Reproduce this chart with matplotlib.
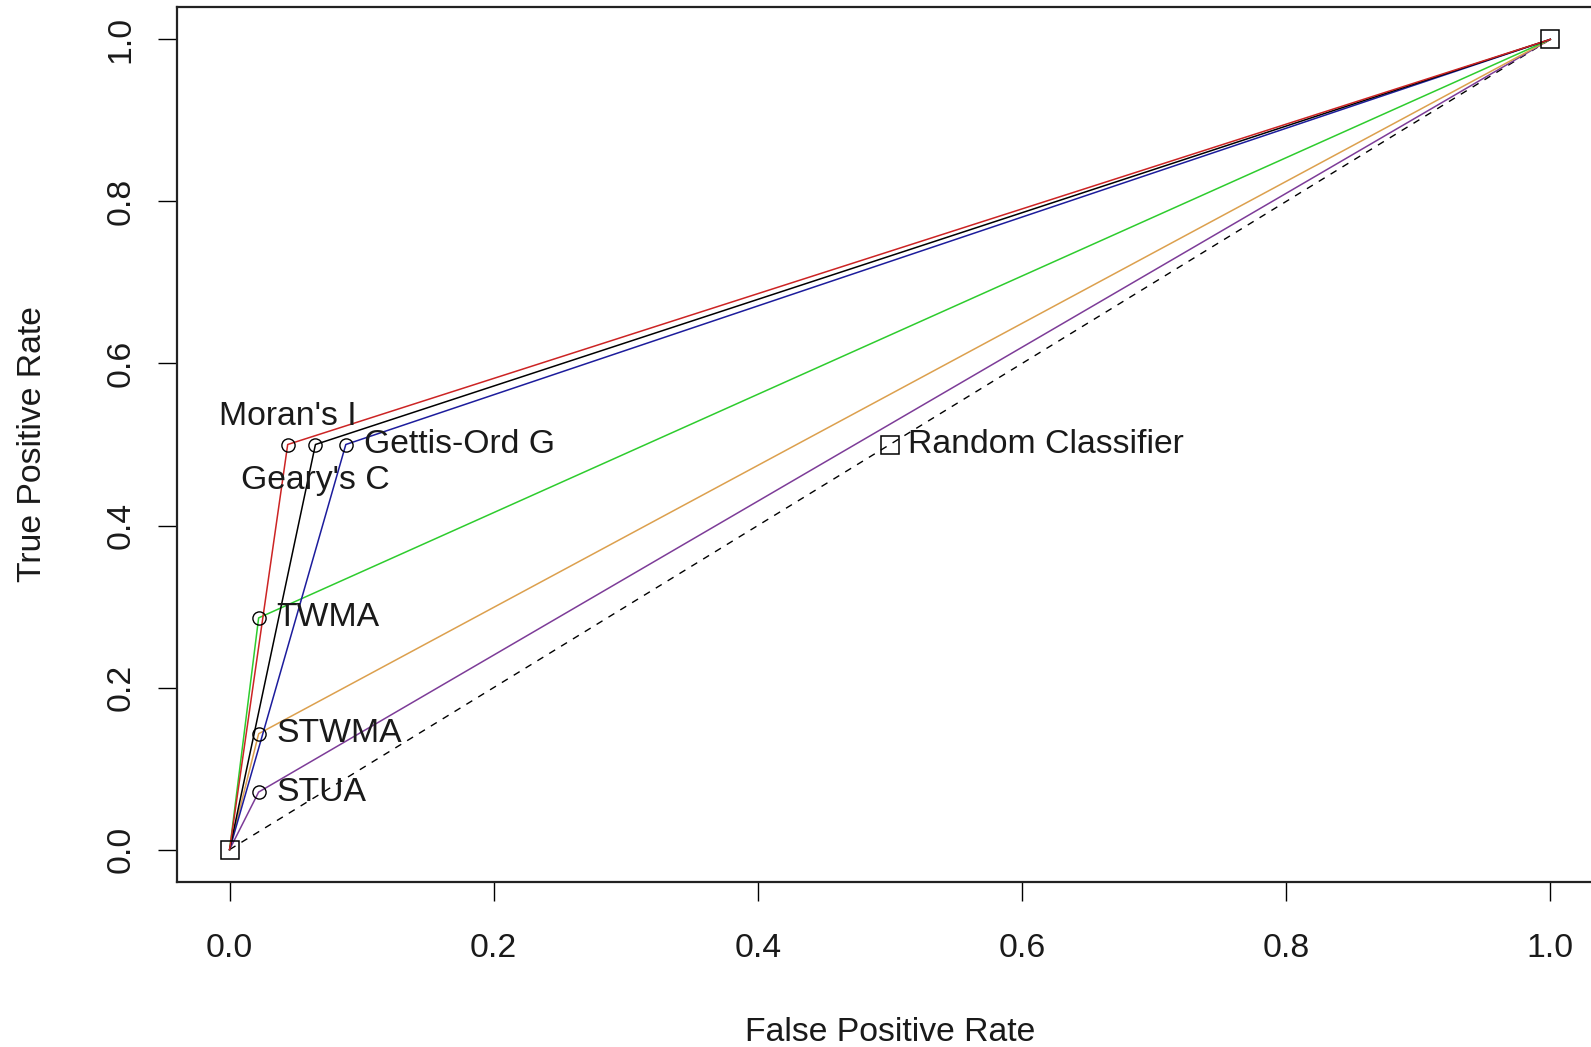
import matplotlib
matplotlib.use("Agg")
import matplotlib.pyplot as plt

plt.rcParams["font.family"] = ["Liberation Sans", "DejaVu Sans"]

# ROC points (fpr, tpr)
moran_fpr = [0.0, 0.044, 1.0]
moran_tpr = [0.0, 0.5, 1.0]
geary_fpr = [0.0, 0.065, 1.0]
geary_tpr = [0.0, 0.5, 1.0]
gettis_fpr = [0.0, 0.088, 1.0]
gettis_tpr = [0.0, 0.5, 1.0]
twma_fpr = [0.0, 0.022, 1.0]
twma_tpr = [0.0, 0.286, 1.0]
stwma_fpr = [0.0, 0.022, 1.0]
stwma_tpr = [0.0, 0.143, 1.0]
stua_fpr = [0.0, 0.022, 1.0]
stua_tpr = [0.0, 0.071, 1.0]
random_fpr = [0.0, 0.5, 1.0]
random_tpr = [0.0, 0.5, 1.0]

ticks = [0.0, 0.2, 0.4, 0.6, 0.8, 1.0]
tick_labels = ["0.0", "0.2", "0.4", "0.6", "0.8", "1.0"]

FS = 24.3
TXT = "#1a1a1a"

fig = plt.figure(figsize=(15.91, 10.47), dpi=100)
ax = fig.add_axes([0.1111, 0.1576, 0.8965, 0.8357])

# random classifier (dashed) with square markers
ax.plot(random_fpr, random_tpr, color="black", lw=1.0, dashes=(5, 5), zorder=2)
ax.plot(random_fpr, random_tpr, ls="none", marker="s", ms=12.5, mfc="none",
        mec="black", mew=1.1, zorder=4)

curves = [
    (stua_fpr, stua_tpr, "#7d3c98"),
    (stwma_fpr, stwma_tpr, "#dca04e"),
    (twma_fpr, twma_tpr, "#2ecc2e"),
    (gettis_fpr, gettis_tpr, "#1c1c9c"),
    (geary_fpr, geary_tpr, "black"),
    (moran_fpr, moran_tpr, "#cc2424"),
]
for fpr, tpr, col in curves:
    ax.plot(fpr, tpr, color=col, lw=1.1, zorder=3)
    ax.plot(fpr[1], tpr[1], ls="none", marker="o", ms=9.5, mfc="none",
            mec="black", mew=1.0, zorder=4)

# labels
right_labels = [
    (gettis_fpr[1], gettis_tpr[1], "Gettis-Ord G"),
    (twma_fpr[1], twma_tpr[1], "TWMA"),
    (stwma_fpr[1], stwma_tpr[1], "STWMA"),
    (stua_fpr[1], stua_tpr[1], "STUA"),
    (random_fpr[1], random_tpr[1], "Random Classifier"),
]
for x, y, s in right_labels:
    ax.annotate(s, (x, y), xytext=(13, 0), textcoords="offset points",
                ha="left", va="center", fontsize=FS, color=TXT, zorder=5)
ax.annotate("Moran's I", (moran_fpr[1], moran_tpr[1]), xytext=(0, 20),
            textcoords="offset points", ha="center", va="center",
            fontsize=FS, color=TXT, zorder=5)
ax.annotate("Geary's C", (geary_fpr[1], geary_tpr[1]), xytext=(0, -26),
            textcoords="offset points", ha="center", va="center",
            fontsize=FS, color=TXT, zorder=5)

ax.set_xlim(-0.04, 1.04)
ax.set_ylim(-0.04, 1.04)
ax.set_xticks(ticks)
ax.set_xticklabels(tick_labels)
ax.set_yticks(ticks)
ax.set_yticklabels(tick_labels, rotation=90, va="center")
ax.tick_params(length=14, width=1.0, color="black", labelsize=FS,
               labelcolor=TXT)
ax.tick_params(axis="x", pad=23)
ax.tick_params(axis="y", pad=15)
for sp in ax.spines.values():
    sp.set_linewidth(1.6)
    sp.set_color("#222222")

ax.set_xlabel("False Positive Rate", fontsize=FS, color=TXT, va="center")
ax.xaxis.set_label_coords(0.5, -0.172)
ax.set_ylabel("True Positive Rate", fontsize=FS, color=TXT, va="center")
ax.yaxis.set_label_coords(-0.1014, 0.5)

fig.savefig("out.png", dpi=100)
